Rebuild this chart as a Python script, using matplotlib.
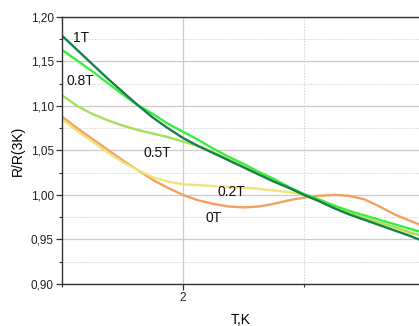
import matplotlib
matplotlib.use("Agg")
import matplotlib.pyplot as plt
from matplotlib.ticker import MultipleLocator, FuncFormatter

plt.rcParams['font.family'] = ['Liberation Sans', 'DejaVu Sans']

# temperature, K
T = [1.000, 1.125, 1.250, 1.375, 1.500, 1.625, 1.750, 1.875, 2.000, 2.125, 2.250, 2.375,
     2.500, 2.625, 2.750, 2.875, 3.000, 3.125, 3.250, 3.375, 3.500, 3.625, 3.750, 3.875, 3.950]

# normalised resistance R/R(3K) for each field
r_0T = [1.088, 1.075, 1.063, 1.051, 1.039, 1.028, 1.017, 1.008, 1.000, 0.994, 0.990, 0.987,
        0.986, 0.987, 0.990, 0.994, 0.997, 0.999, 1.000, 0.999, 0.995, 0.987, 0.978, 0.971, 0.967]
r_02T = [1.085, 1.072, 1.060, 1.048, 1.037, 1.028, 1.020, 1.015, 1.012, 1.011, 1.010, 1.009,
         1.008, 1.007, 1.005, 1.003, 1.000, 0.993, 0.986, 0.979, 0.973, 0.968, 0.963, 0.957, 0.955]
r_05T = [1.112, 1.100, 1.091, 1.084, 1.078, 1.073, 1.069, 1.065, 1.060, 1.055, 1.048, 1.040,
         1.032, 1.024, 1.016, 1.008, 1.000, 0.994, 0.987, 0.980, 0.974, 0.969, 0.964, 0.958, 0.955]
r_08T = [1.163, 1.151, 1.139, 1.126, 1.113, 1.101, 1.091, 1.080, 1.071, 1.062, 1.052, 1.043,
         1.035, 1.026, 1.018, 1.009, 1.001, 0.995, 0.988, 0.982, 0.977, 0.972, 0.967, 0.962, 0.959]
r_1T = [1.179, 1.163, 1.147, 1.131, 1.116, 1.101, 1.087, 1.075, 1.064, 1.055, 1.047, 1.039,
        1.031, 1.023, 1.015, 1.008, 1.000, 0.993, 0.985, 0.978, 0.972, 0.966, 0.960, 0.954, 0.950]

series = [
    (r_0T, "#f4a060", "0T", (2.187, 0.974)),
    (r_02T, "#eee47a", "0.2T", (2.286, 1.003)),
    (r_05T, "#a6df5c", "0.5T", (1.672, 1.047)),
    (r_08T, "#3cee3c", "0.8T", (1.04, 1.128)),
    (r_1T, "#17804c", "1T", (1.09, 1.176)),
]

fig = plt.figure(figsize=(4.19, 3.26), dpi=100)
ax = fig.add_axes([0.148, 0.129, 0.852, 0.819])

for vals, col, lab, pos in series:
    ax.plot(T, vals, color=col, lw=1.7, solid_joinstyle="round")
    ax.text(pos[0], pos[1], lab, fontsize=10, color="#111111", va="center", ha="left")

ax.set_xlim(1.0, 3.95)
ax.set_ylim(0.90, 1.20)

ax.xaxis.set_major_locator(MultipleLocator(2))
ax.xaxis.set_minor_locator(MultipleLocator(1))
ax.yaxis.set_major_locator(MultipleLocator(0.05))
ax.yaxis.set_minor_locator(MultipleLocator(0.025))
ax.yaxis.set_major_formatter(FuncFormatter(lambda v, p: f"{v:.2f}".replace(".", ",")))
ax.xaxis.set_major_formatter(FuncFormatter(lambda v, p: f"{v:g}"))

ax.grid(which="major", color="#cccccc", lw=0.9, ls="-")
ax.grid(which="minor", color="#d4d4d4", lw=0.7, ls=(0, (1.5, 1.5)))
ax.set_axisbelow(True)

for s in ["left", "bottom", "top"]:
    ax.spines[s].set_color("#333333")
    ax.spines[s].set_linewidth(1.0)
ax.spines["right"].set_visible(False)

ax.tick_params(which="major", direction="out", length=4, width=0.9, color="#333333",
               labelsize=8.5, labelcolor="#222222", pad=2)
ax.tick_params(which="minor", direction="out", length=2, width=0.8, color="#333333")
ax.tick_params(top=False, right=False)

ax.set_xlabel("T,K", fontsize=10, labelpad=6)
ax.set_ylabel("R/R(3K)", fontsize=10, labelpad=4)

fig.savefig("out.png", dpi=100)
